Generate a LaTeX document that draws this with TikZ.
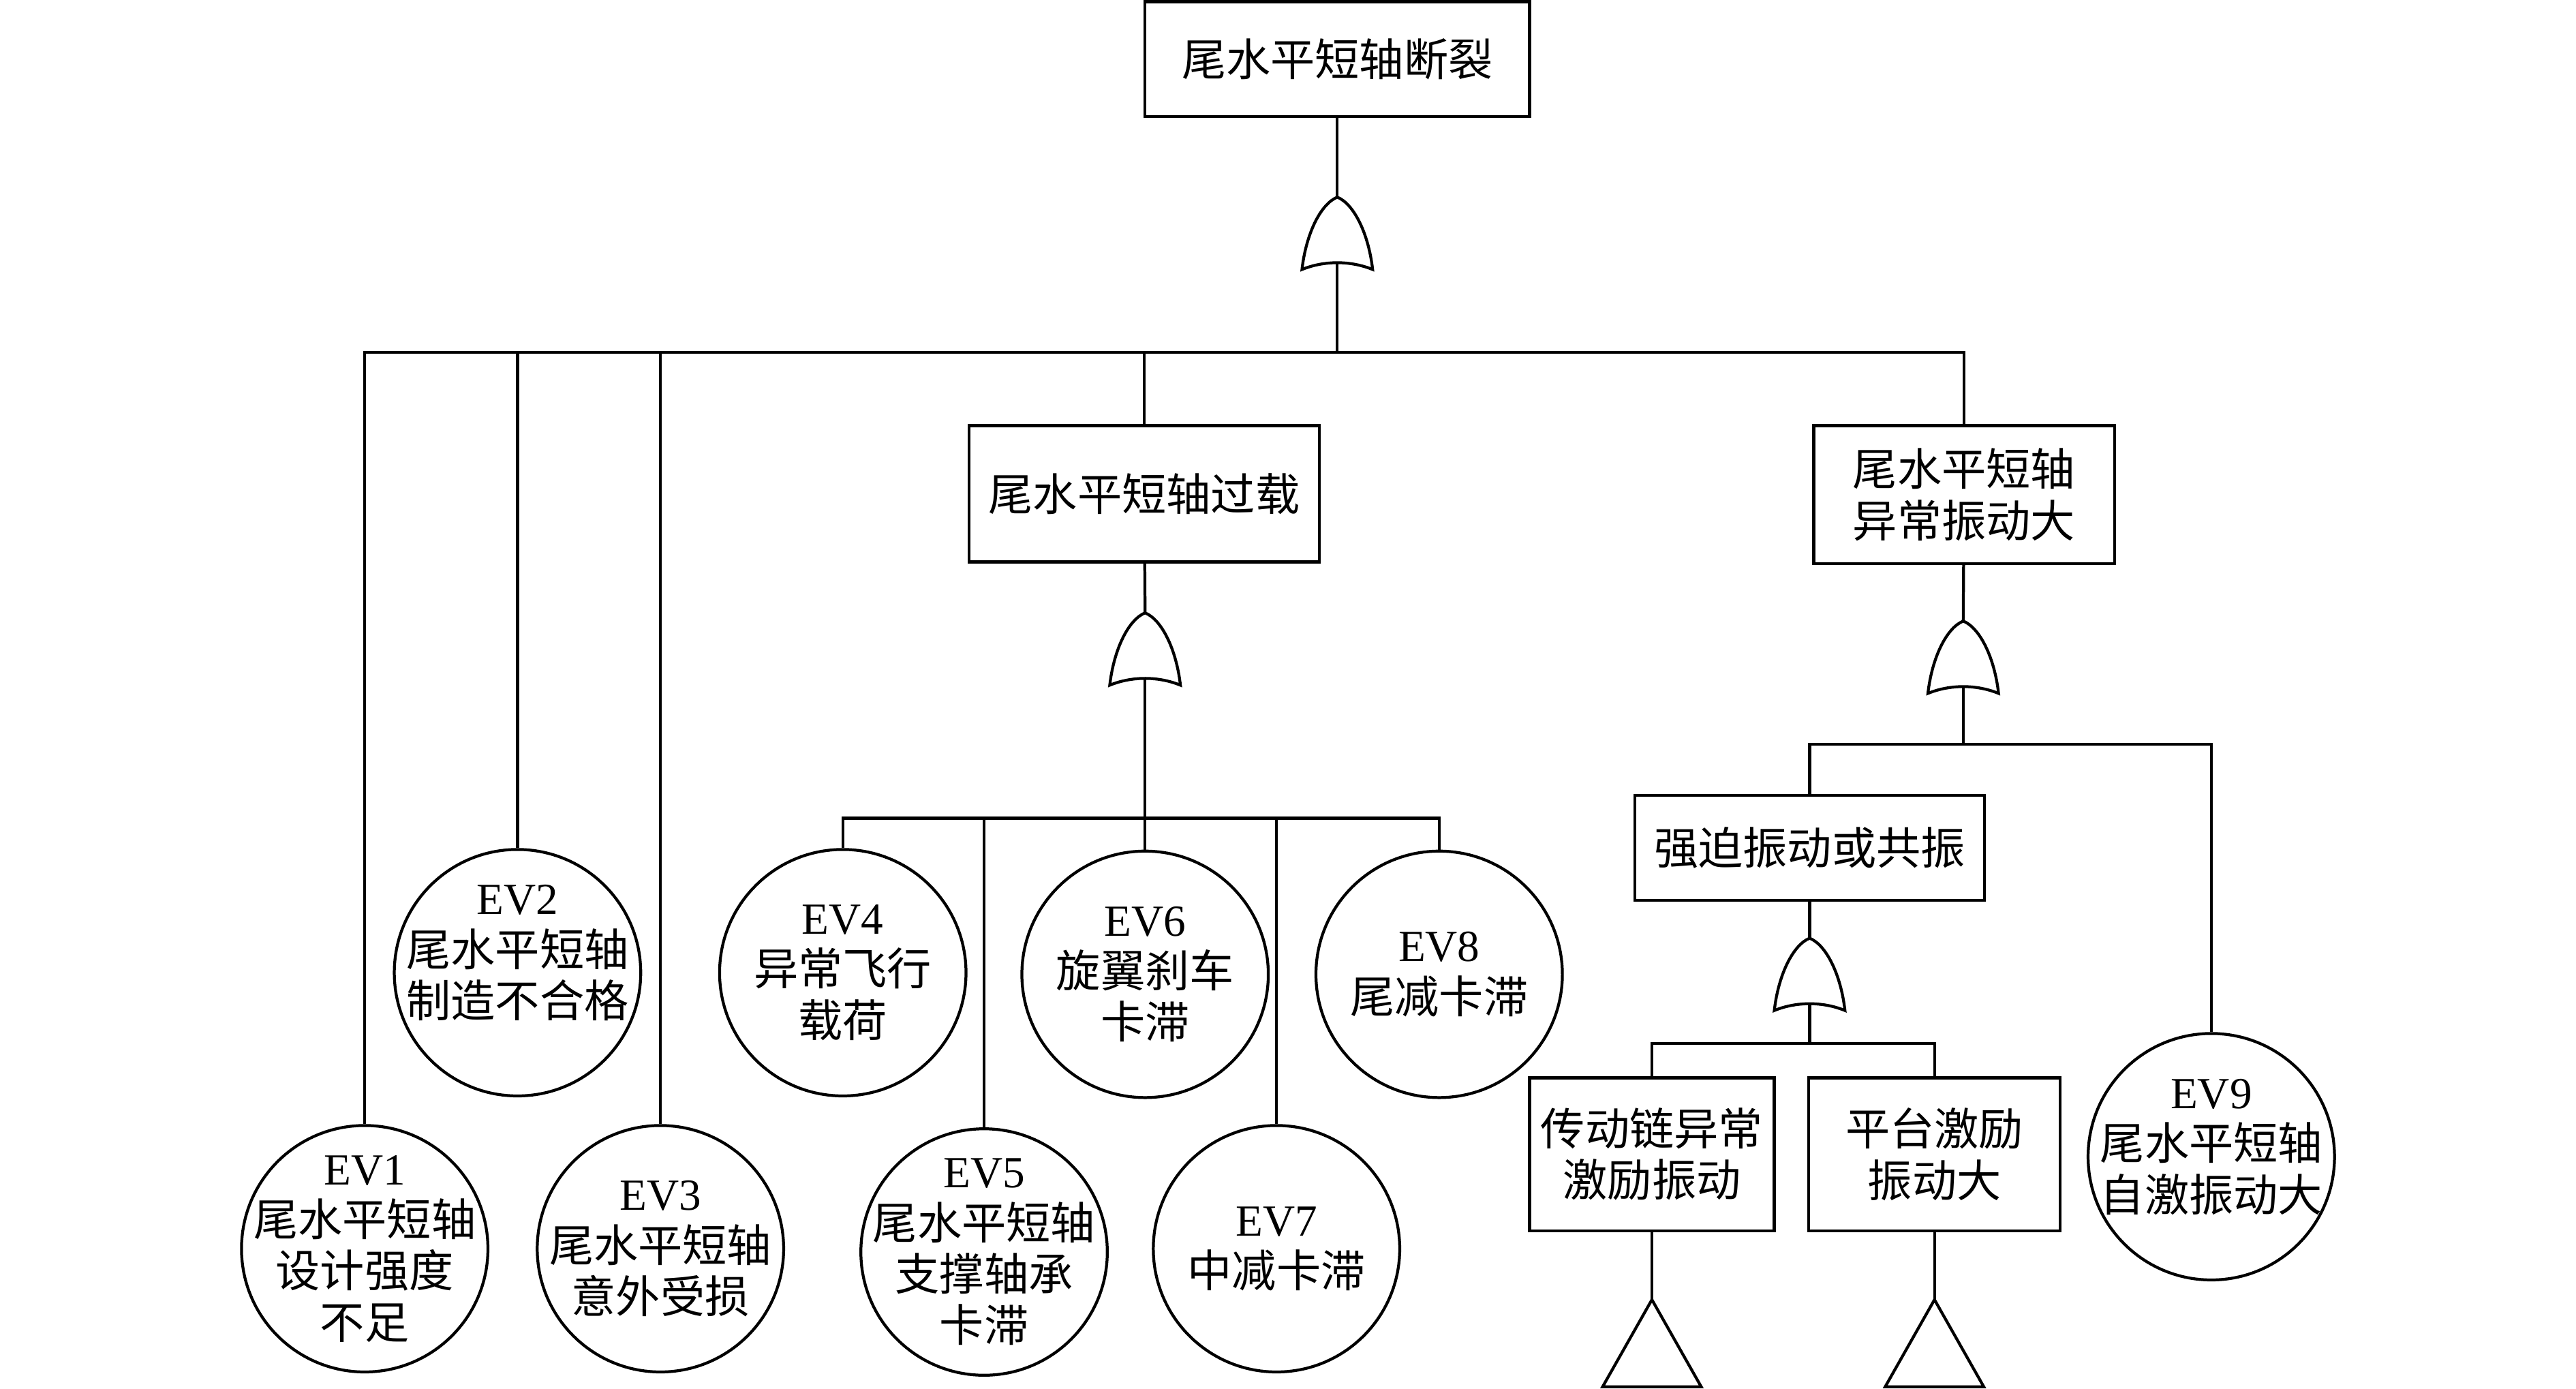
\documentclass[tikz,border=0pt]{standalone}
\usepackage{fontspec}
\setmainfont{Liberation Serif}
\newfontfamily\cjk{Noto Sans CJK SC}
\usepackage{tikz}
\newcommand{\ev}[1]{{\rmfamily EV#1}}
\tikzset{>=latex}

\begin{document}
\begin{tikzpicture}[line width=0.5pt]
\tikzset{txt/.style={font=\cjk\fontsize{7.7}{8.9}\selectfont, align=center},
         fbox/.style={draw, rectangle, inner sep=0pt, txt},
         evt/.style={draw, circle, minimum size=1.5cm, inner sep=0pt, label={[txt]center:{#1}}},
         evup/.style 2 args={draw, circle, minimum size=1.5cm, inner sep=0pt, label={[txt,yshift=#1]center:{#2}}},
         orgate/.pic={
            \draw (-0.215,-0.44) .. controls (-0.19,-0.22) and (-0.1,-0.04) .. (0,0)
                  .. controls (0.1,-0.04) and (0.19,-0.22) .. (0.215,-0.44)
                  .. controls (0.08,-0.385) and (-0.08,-0.385) .. cycle;
            \coordinate (-out) at (0,0);
            \coordinate (-in) at (0,-0.40);},
         transfer/.pic={
            \draw (0,0) -- (0.3,-0.53) -- (-0.3,-0.53) -- cycle;
            \coordinate (-top) at (0,0);}}
    \useasboundingbox (0,0) rectangle (15.68,-8.45);

    % top event
    \node[fbox, minimum width=2.34cm, minimum height=0.70cm] (top) at (8.14,-0.36) {尾水平短轴断裂};
    \pic (g1) at (8.14,-1.20) {orgate};
    \coordinate (b1) at (8.14,-2.145);
    \draw (top) -- (g1-out);
    \draw (g1-in) -- (b1);

    \node[evt={\ev1\\尾水平短轴\\设计强度\\不足}] (ev1) at (2.22,-7.60) {};
    \node[evup={1.2mm}{\ev2\\尾水平短轴\\制造不合格}] (ev2) at (3.15,-5.92) {};
    \node[evt={\ev3\\尾水平短轴\\意外受损}] (ev3) at (4.02,-7.60) {};
    \node[fbox, minimum width=2.13cm, minimum height=0.83cm] (mbox) at (6.965,-3.005) {尾水平短轴过载};
    \node[fbox, minimum width=1.83cm, minimum height=0.84cm] (rbox) at (11.955,-3.01) {尾水平短轴\\异常振动大};

    \foreach \n in {ev1,ev2,ev3,mbox,rbox}
        \draw (\n.north) |- (b1);

    % overload branch
    \pic (g2) at (6.97,-3.73) {orgate};
    \coordinate (b2) at (6.97,-4.98);
    \draw (mbox) -- (g2-out);
    \draw (g2-in) -- (b2);

    \node[evt={\ev4\\异常飞行\\载荷}] (ev4) at (5.13,-5.92) {};
    \node[evt={\ev5\\尾水平短轴\\支撑轴承\\卡滞}] (ev5) at (5.99,-7.62) {};
    \node[evt={\ev6\\旋翼刹车\\卡滞}] (ev6) at (6.97,-5.93) {};
    \node[evt={\ev7\\中减卡滞}] (ev7) at (7.77,-7.60) {};
    \node[evt={\ev8\\尾减卡滞}] (ev8) at (8.76,-5.93) {};

    \foreach \n in {ev4,ev5,ev6,ev7,ev8}
        \draw (\n.north) |- (b2);

    % vibration branch
    \pic (g3) at (11.95,-3.78) {orgate};
    \coordinate (b3) at (11.95,-4.53);
    \draw (rbox) -- (g3-out);
    \draw (g3-in) -- (b3);

    \node[fbox, minimum width=2.13cm, minimum height=0.64cm] (fbox) at (11.015,-5.16) {强迫振动或共振};
    \node[evup={0.6mm}{\ev9\\尾水平短轴\\自激振动大}] (ev9) at (13.46,-7.04) {};
    \draw (fbox.north) |- (b3);
    \draw (ev9.north) |- (b3);

    \pic (g4) at (11.015,-5.71) {orgate};
    \coordinate (b4) at (11.015,-6.35);
    \draw (fbox) -- (g4-out);
    \draw (g4-in) -- (b4);

    \node[fbox, minimum width=1.49cm, minimum height=0.93cm] (tbox1) at (10.055,-7.025) {传动链异常\\激励振动};
    \node[fbox, minimum width=1.53cm, minimum height=0.93cm] (tbox2) at (11.775,-7.025) {平台激励\\振动大};
    \draw (tbox1.north) |- (b4);
    \draw (tbox2.north) |- (b4);

    \pic (t1) at (10.055,-7.91) {transfer};
    \pic (t2) at (11.775,-7.91) {transfer};
    \draw (tbox1) -- (t1-top);
    \draw (tbox2) -- (t2-top);
\end{tikzpicture}
\end{document}
